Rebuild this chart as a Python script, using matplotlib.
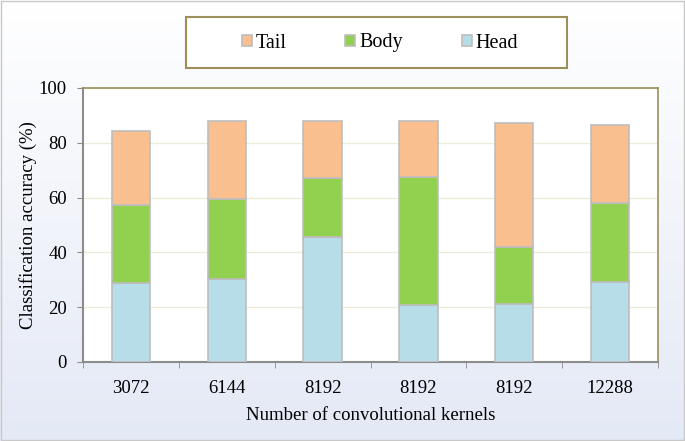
import numpy as np
import matplotlib

matplotlib.use("Agg")
import matplotlib.pyplot as plt
from matplotlib.patches import Patch, Rectangle

kernels = ["3072", "6144", "8192", "8192", "8192", "12288"]
head = [29.0, 30.3, 45.7, 20.8, 21.2, 29.1]
body = [28.4, 29.1, 21.6, 46.6, 20.9, 29.0]
tail = [26.9, 28.7, 20.5, 20.7, 45.3, 28.3]

plt.rcParams["font.family"] = ["Liberation Serif", "DejaVu Serif"]

W, H = 685, 441
fig = plt.figure(figsize=(W / 100, H / 100), dpi=100)

# soft background gradient behind everything
bg = fig.add_axes([0, 0, 1, 1], zorder=-10)
grad = np.linspace(0, 1, 256).reshape(-1, 1)
bg.imshow(grad, aspect="auto", extent=[0, 1, 0, 1],
          cmap=matplotlib.colors.LinearSegmentedColormap.from_list("bg", ["#e4e9f6", "#ffffff"]),
          origin="lower")
bg.set_axis_off()
fig.add_artist(Rectangle((0.001, 0.002), 0.997, 0.995, transform=fig.transFigure,
                         fill=False, edgecolor="#c8c8c8", linewidth=1.0))

ax = fig.add_axes([83 / W, 1 - 362 / H, (658 - 83) / W, (362 - 88) / H])
ax.set_facecolor("white")

x = np.arange(len(kernels))
edge = "#bdbdbd"
w = 0.4
head_b = np.array(head)
body_b = head_b + np.array(body)
ax.bar(x, head, w, color="#b7dde8", edgecolor=edge, linewidth=1.2, zorder=3, label="Head")
ax.bar(x, body, w, bottom=head_b, color="#92d050", edgecolor=edge, linewidth=1.2, zorder=3, label="Body")
ax.bar(x, tail, w, bottom=body_b, color="#f9bf8f", edgecolor=edge, linewidth=1.2, zorder=3, label="Tail")

ax.set_xlim(-0.5, len(kernels) - 0.5)
ax.set_ylim(0, 100)
ax.set_yticks(range(0, 101, 20))
ax.yaxis.grid(True, color="#efebd9", linewidth=1.0, zorder=0)
ax.set_axisbelow(True)

ax.set_xticks(x)
ax.set_xticklabels(kernels, fontsize=13.5)
ax.set_xticks(np.arange(-0.5, len(kernels), 1.0), minor=True)
ax.tick_params(axis="x", which="major", length=0, pad=13)
ax.tick_params(axis="x", which="minor", length=4, color="#8c8c8c", direction="out")
ax.tick_params(axis="y", labelsize=13.5, length=4, pad=7.5, color="#8c8c8c")

for side in ("left", "bottom"):
    ax.spines[side].set_color("#8c8c8c")
    ax.spines[side].set_linewidth(1.5)
for side in ("top", "right"):
    ax.spines[side].set_color("#9c8f5a")
    ax.spines[side].set_linewidth(1.2)

ax.set_xlabel("Number of convolutional kernels", fontsize=13.5, labelpad=7)
ax.set_ylabel("Classification accuracy (%)", fontsize=13.5, labelpad=1.5)

# legend box drawn separately so its padding can match the reference
fig.add_artist(Rectangle((186 / W, 1 - 68 / H), (567 - 186) / W, (68 - 17) / H,
                         transform=fig.transFigure, facecolor="white",
                         edgecolor="#9c8f5a", linewidth=1.5, zorder=5))
handles = [Patch(facecolor=c, edgecolor=edge, linewidth=1.2, label=l)
           for c, l in [("#f9bf8f", "Tail"), ("#92d050", "Body"), ("#b7dde8", "Head")]]
leg = fig.legend(handles=handles, loc="center", bbox_to_anchor=(380 / W, 1 - 43 / H),
                 ncol=3, frameon=False, fontsize=14.5, handlelength=0.5,
                 handleheight=0.5, handletextpad=0.2, columnspacing=2.9)
leg.set_zorder(6)

fig.savefig("out.png", dpi=100)
